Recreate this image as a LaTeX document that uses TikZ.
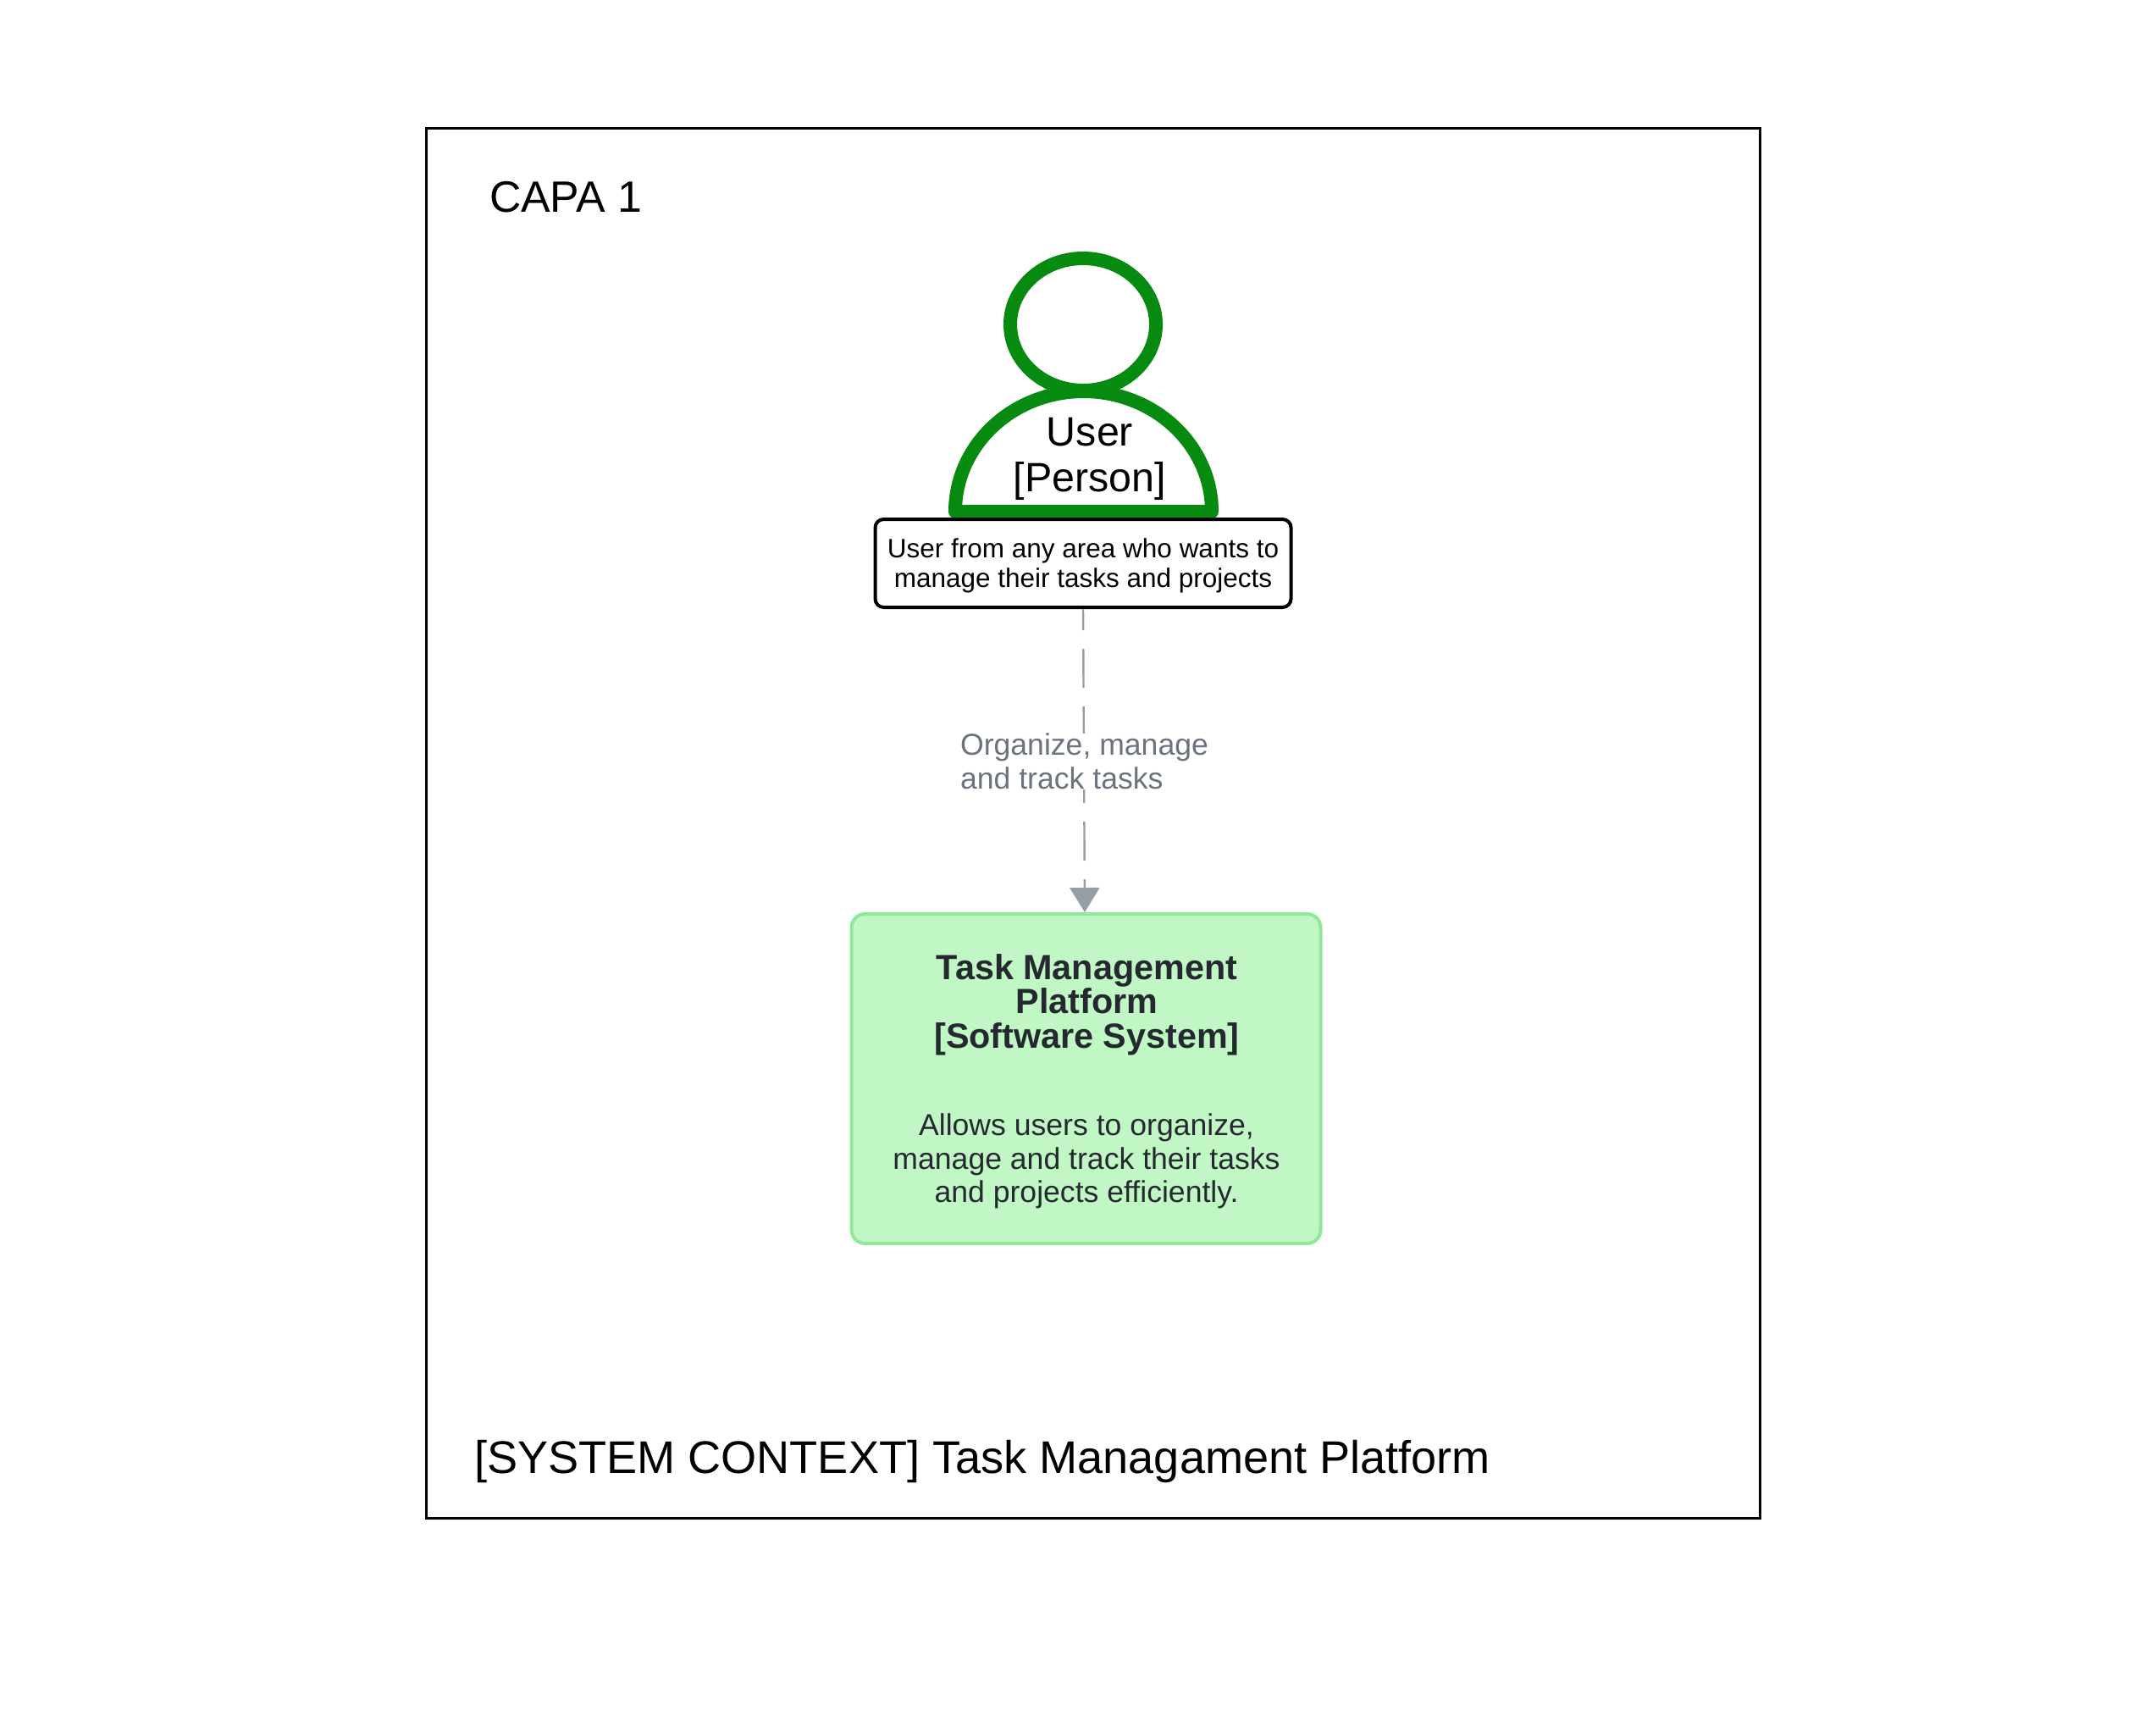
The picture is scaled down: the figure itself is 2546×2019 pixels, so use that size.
\documentclass[tikz,border=0pt]{standalone}
\usepackage{fontspec}
\setmainfont{Liberation Sans}
\usetikzlibrary{shapes.geometric,arrows.meta}
\definecolor{persongreen}{HTML}{068A0F}
\definecolor{sysfill}{HTML}{C1F7C5}
\definecolor{sysline}{HTML}{90E89B}
\definecolor{systext}{HTML}{24292F}
\definecolor{edgeline}{HTML}{989EA8}
\definecolor{edgetext}{HTML}{6B7280}
\newcommand{\pxfont}[2]{\fontsize{#1pt}{#2pt}\selectfont}
\tikzset{
  x=0.5pt,y=-0.5pt,
  frame/.style={draw=black,line width=1.5pt,minimum width=787.5pt,minimum height=820.5pt,inner sep=0pt},
  personline/.style={draw=persongreen,line width=8pt,line join=round,fill=white},
  plain/.style={inner sep=0pt,outer sep=0pt,align=center,text=black},
  descbox/.style={draw=black,line width=2pt,rounded corners=5pt,fill=white,minimum width=245.5pt,minimum height=52pt,inner sep=0pt},
  sysbox/.style={draw=sysline,line width=2pt,fill=sysfill,rounded corners=8pt,minimum width=277pt,minimum height=194.5pt,inner sep=0pt},
  rel/.style={draw=edgeline,line width=1.2pt,dash pattern=on 23pt off 11pt,dash phase=10.5pt,-{Triangle[length=14.5pt,width=17.5pt]}},
  rellabel/.style={inner sep=0pt,fill=white,align=left,text=edgetext,font=\pxfont{17.8}{20}}
}
\begin{document}
\begin{tikzpicture}
\useasboundingbox (0,0) rectangle (2546,2019);
\fill[white] (0,0) rectangle (2546,2019);
\node[frame] (frame) at (1291,971.5) {};
\node[plain,anchor=base west,font=\pxfont{25.9}{27}] (layer) at (578,250) {CAPA 1};
\node[plain,anchor=base west,font=\pxfont{27.06}{30}] (title) at (560,1739) {[SYSTEM CONTEXT] Task Managament Platform};
\draw[personline] (1128,604) arc[start angle=180,end angle=0,x radius=151.5,y radius=-142] -- cycle;
\node[ellipse,personline,minimum width=86pt,minimum height=78pt,inner sep=0pt] (head) at (1279,383) {};
\node[plain,font=\pxfont{24.2}{27}] (person) at (1287,542) {User\\{[Person]}};
\node[descbox] (desc) at (1279,665) {};
\node[plain,font=\pxfont{15.75}{17.6}] (desctext) at (1279,668) {User from any area who wants to\\manage their tasks and projects};
\node[sysbox] (sys) at (1282.5,1273.5) {};
\draw[rel] (desc.south) -- ([xshift=-0.75pt]sys.north);
\node[rellabel] (edge) at (1280.5,899) {Organize, manage\\and track tasks};
\node[plain,text=systext,font=\bfseries\pxfont{20.66}{20.3}] (systitle) at (1283.5,1186) {Task Management\\Platform\\{[Software System]}};
\node[plain,text=systext,font=\pxfont{17.8}{19.8}] (sysdesc) at (1283,1371) {Allows users to organize,\\manage and track their tasks\\and projects efficiently.};
\end{tikzpicture}
\end{document}
